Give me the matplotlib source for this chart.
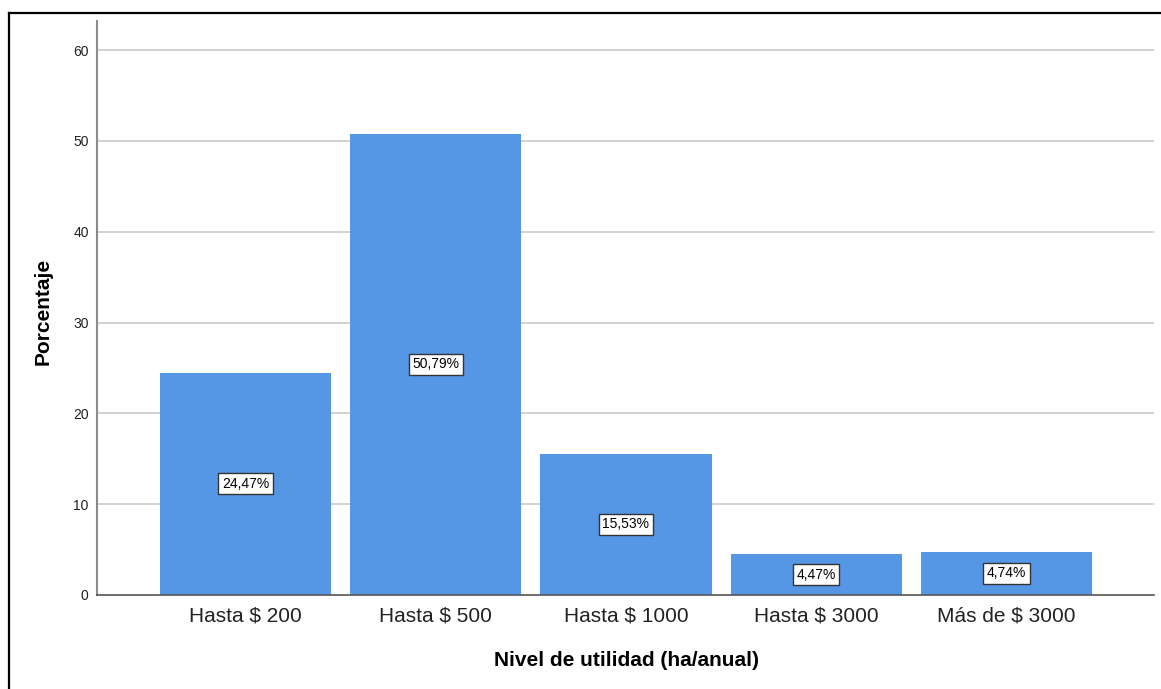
import matplotlib
matplotlib.use("Agg")
import matplotlib.pyplot as plt
from matplotlib.lines import Line2D

plt.rcParams['font.family'] = ['Liberation Sans', 'DejaVu Sans']

categories = ["Hasta $ 200", "Hasta $ 500", "Hasta $ 1000", "Hasta $ 3000", "Más de $ 3000"]
percentages = [24.47, 50.79, 15.53, 4.47, 4.74]
y_ticks = [0, 10, 20, 30, 40, 50, 60]

W, H = 1161, 689
fig = plt.figure(figsize=(W / 100, H / 100), dpi=100)
fig.patch.set_facecolor("white")

ax = fig.add_axes([97 / W, 1 - 595 / H, (1154 - 97) / W, (595 - 21) / H])

x = list(range(len(categories)))
ax.bar(x, percentages, width=0.9, color="#5596E5", edgecolor="none", zorder=3)

for xi, v in zip(x, percentages):
    ax.text(xi, v / 2, f"{v:.2f}%".replace(".", ","), ha="center", va="center",
            fontsize=10, color="black", zorder=5,
            bbox=dict(boxstyle="square,pad=0.25", facecolor="white",
                      edgecolor="#333333", linewidth=1.0))

ax.set_xlim(-0.78, 4.775)
ax.set_ylim(0, 63.2)
ax.set_yticks(y_ticks)
ax.set_yticklabels([str(t) for t in y_ticks], fontsize=10, color="#222222")
ax.set_xticks(x)
ax.set_xticklabels(categories, fontsize=15, color="#222222")
ax.tick_params(axis="both", length=0)
ax.tick_params(axis="y", pad=6)
ax.tick_params(axis="x", pad=8.5)

for t in y_ticks[1:]:
    ax.axhline(t, color="#d2d2d2", linewidth=1.4, zorder=1)

for s in ["top", "right"]:
    ax.spines[s].set_visible(False)
ax.spines["left"].set_color("#8c8c8c")
ax.spines["left"].set_linewidth(1.5)
ax.spines["bottom"].set_color("#555555")
ax.spines["bottom"].set_linewidth(1.2)
ax.spines["bottom"].set_zorder(4)

fig.text(626 / W, 1 - 661 / H, "Nivel de utilidad (ha/anual)", ha="center", va="center",
         fontsize=15, fontweight="bold", color="black")
fig.text(43 / W, 1 - 311 / H, "Porcentaje", ha="center", va="center", rotation=90,
         fontsize=15, fontweight="bold", color="black")

# outer frame (left and top edges)
fig.add_artist(Line2D([8.5 / W, 8.5 / W], [0, 1 - 12.5 / H], transform=fig.transFigure,
                      color="black", linewidth=1.6))
fig.add_artist(Line2D([8.5 / W, 1], [1 - 12.5 / H, 1 - 12.5 / H], transform=fig.transFigure,
                      color="black", linewidth=1.6))

fig.savefig("out.png", dpi=100, facecolor="white")
